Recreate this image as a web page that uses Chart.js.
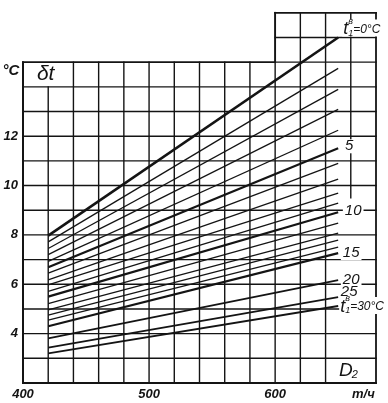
<!DOCTYPE html>
<html><head><meta charset="utf-8">
<script src="https://cdn.jsdelivr.net/npm/chart.js@4.4.1/dist/chart.umd.min.js"></script>
<style>html,body{margin:0;padding:0;background:#fff;}canvas{display:block;}</style>
</head><body>
<canvas id="c" width="388" height="403"></canvas>
<script>
// D2 (т/ч) at the two ends of every line
const flowD = [420, 650];
// inlet water temperature t1 (°C) for each line
const tempLabels = [0,1,2,3,4,5,6,7,8,9,10,11,12,13,14,15,20,25,30];
// δt (°C) at D2 = 420
const deltaAtStart = [7.97,7.72,7.45,7.2,6.93,6.69,6.45,6.18,5.98,5.71,5.5,5.22,4.96,4.75,4.55,4.3,3.81,3.43,3.2];
// δt (°C) at D2 = 650
const deltaAtEnd = [16.0,14.75,13.9,13.09,12.24,11.51,10.9,10.26,9.69,9.29,8.92,8.48,8.07,7.79,7.51,7.26,6.17,5.48,5.12];
// axis ticks
const yTickValues = [4,6,8,10,12];
const xTickValues = [400,500,600,670];
const xTickLabels = ['400','500','600','т/ч'];
// labelled lines
const labelledTemps = [5,10,15,20,25];

const FONT = '"Liberation Sans Narrow","Liberation Sans",sans-serif';
const INK = '#141414';

const datasets = tempLabels.map((t,i)=>({
  label: 't1=' + t,
  data: [{x:flowD[0], y:deltaAtStart[i]},{x:flowD[1], y:deltaAtEnd[i]}],
  borderColor: INK,
  borderWidth: t===0 ? 2.6 : (t%5===0 ? (t<=15 ? 2.2 : 1.8) : 1.3),
  pointRadius: 0,
  fill: false,
  tension: 0
}));

const gridPlugin = {
  id: 'grid',
  beforeDatasetsDraw(chart){
    const {ctx, scales:{x,y}} = chart;
    const px = v => x.getPixelForValue(v), py = v => y.getPixelForValue(v);
    ctx.save();
    ctx.strokeStyle = INK;
    ctx.lineCap = 'square';
    const line = (x1,y1,x2,y2,w) => { ctx.lineWidth = w; ctx.beginPath(); ctx.moveTo(px(x1),py(y1)); ctx.lineTo(px(x2),py(y2)); ctx.stroke(); };
    for (let v=3; v<=14; v++) line(400,v,680,v,1.4);
    line(600,16,680,16,1.4);
    for (let v=420; v<=640; v+=20){
      if (v===420) line(v,2,v,14,1.4);
      else if (v>=600) line(v,2,v,17,1.4);
      else line(v,2,v,15,1.4);
    }
    line(660,17,660,9.5,1.4);
    // outer border
    line(400,2,680,2,2);
    line(400,2,400,15,2);
    line(400,15,600,15,1.8);
    line(600,15,680,15,1.4);
    line(600,15,600,17,1.8);
    line(600,17,680,17,1.8);
    line(680,2,680,17,1.8);
    ctx.restore();
  },
  afterDatasetsDraw(chart){
    const {ctx, scales:{x,y}} = chart;
    const px = v => x.getPixelForValue(v), py = v => y.getPixelForValue(v);
    ctx.save();
    ctx.fillStyle = INK;
    ctx.textBaseline = 'middle';
    const endX = px(flowD[1]);
    const idx = t => tempLabels.indexOf(t);
    const offs = {5:[11,-2],10:[15,-1],15:[13,0],20:[13,0],25:[11,-5]};
    labelledTemps.forEach(t=>{
      const yy = py(deltaAtEnd[idx(t)]) + offs[t][1];
      const xx = endX + offs[t][0];
      ctx.font = 'italic 15px ' + FONT;
      const w = ctx.measureText(String(t)).width;
      ctx.fillStyle = '#fff';
      ctx.fillRect(xx-w/2-2, yy-7, w+4, 14);
      ctx.fillStyle = INK;
      ctx.textAlign = 'center';
      ctx.fillText(String(t), xx, yy);
    });
    // t1 labels for 0 and 30
    const tLabel = (t, dx, dy) => {
      const xx = endX + dx, yy = py(deltaAtEnd[idx(t)]) + dy;
      ctx.font = 'italic 12px ' + FONT;
      const w = ctx.measureText('=' + t + '°C').width;
      ctx.fillStyle = '#fff';
      ctx.fillRect(xx-1, yy-9, w + 12, 17);
      ctx.fillStyle = INK;
      ctx.textAlign = 'left';
      ctx.font = 'italic 18px ' + FONT;
      ctx.fillText('t', xx, yy+1);
      ctx.font = 'italic 9px ' + FONT;
      ctx.fillText('в', xx+5, yy-7);
      ctx.fillText('1', xx+5, yy+5);
      ctx.font = 'italic 12px ' + FONT;
      ctx.fillText('=' + t + '°C', xx+10, yy+1);
    };
    tLabel(0, 5, -9);
    tLabel(30, 2, 0);
    // δt box, °C, D2 box
    ctx.textAlign = 'center';
    ctx.font = 'italic 21px ' + FONT;
    ctx.fillText('δt', px(418), py(14.5));
    ctx.font = 'italic bold 15px ' + FONT;
    ctx.fillText('°C', 11, py(14.65));
    ctx.font = 'italic 19px ' + FONT;
    ctx.fillText('D', px(656), py(2.5));
    ctx.font = 'italic 11px ' + FONT;
    ctx.fillText('2', px(656)+9, py(2.5)+4);
    ctx.restore();
  }
};

new Chart(document.getElementById('c'), {
  type: 'line',
  data: { datasets },
  options: {
    responsive: false,
    animation: false,
    events: [],
    layout: { padding: { top: 11, right: 12, left: 0, bottom: 0 } },
    plugins: { legend: { display: false }, tooltip: { enabled: false } },
    scales: {
      x: {
        type: 'linear', min: 400, max: 680,
        grid: { display: false, drawTicks: false },
        border: { display: false },
        afterBuildTicks: s => { s.ticks = xTickValues.map(v => ({ value: v })); },
        afterFit: s => { s.height = 20; },
        ticks: {
          autoSkip: false, maxRotation: 0, padding: 4, color: INK,
          font: { family: FONT, size: 13, style: 'italic', weight: 'bold' },
          callback: v => xTickLabels[xTickValues.indexOf(v)]
        }
      },
      y: {
        type: 'linear', min: 2, max: 17,
        grid: { display: false, drawTicks: false },
        border: { display: false },
        afterBuildTicks: s => { s.ticks = yTickValues.map(v => ({ value: v })); },
        afterFit: s => { s.width = 23; },
        ticks: {
          autoSkip: false, padding: 5, color: INK,
          font: { family: FONT, size: 13, style: 'italic', weight: 'bold' },
          callback: v => String(v)
        }
      }
    }
  },
  plugins: [gridPlugin]
});
</script>
</body></html>
